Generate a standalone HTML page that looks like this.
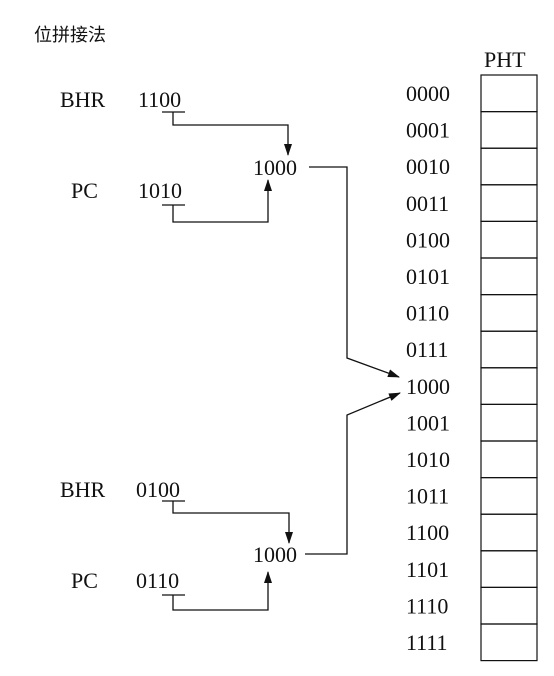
<!DOCTYPE html>
<html><head><meta charset="utf-8"><style>
html,body{margin:0;padding:0;background:#fff;}
svg{display:block;}
text{font-family:"Liberation Serif","Noto Serif CJK SC",serif;font-size:22px;fill:#111;}
</style></head><body>
<svg width="554" height="676" viewBox="0 0 554 676">
<defs><marker id="ah" markerWidth="12" markerHeight="8" refX="11" refY="4" orient="auto" markerUnits="userSpaceOnUse"><path d="M0,0 L12,4 L0,8 Z" fill="#111"/></marker></defs>
<text x="34" y="41" style="font-family:'Noto Sans CJK SC',sans-serif;font-size:18px">位拼接法</text>
<text x="484" y="67">PHT</text>
<g id="pht"></g>
<g stroke="#111" stroke-width="1.3" fill="none">
<g><line x1="162" y1="112" x2="185" y2="112"/><polyline points="173,112 173,125 288,125 288,155" marker-end="url(#ah)"/></g>
<g><line x1="162" y1="205" x2="185" y2="205"/><polyline points="173,205 173,222 268,222 268,180" marker-end="url(#ah)"/></g>
<polyline points="309,167 347,167 347,358 399,377" marker-end="url(#ah)"/>
<g><line x1="162" y1="501" x2="185" y2="501"/><polyline points="173,501 173,513 289,513 289,543" marker-end="url(#ah)"/></g>
<g><line x1="162" y1="595" x2="185" y2="595"/><polyline points="173,595 173,610 268,610 268,572" marker-end="url(#ah)"/></g>
<polyline points="305,554 347,554 347,415 400,393" marker-end="url(#ah)"/>
</g>
<text x="60" y="107">BHR</text>
<text x="138" y="107">1100</text>
<text x="71" y="198">PC</text>
<text x="138" y="198">1010</text>
<text x="253" y="175">1000</text>
<text x="60" y="497">BHR</text>
<text x="136" y="497">0100</text>
<text x="71" y="588">PC</text>
<text x="136" y="588">0110</text>
<text x="253" y="562">1000</text>
</svg>
<script>
const rowLabels=["0000","0001","0010","0011","0100","0101","0110","0111","1000","1001","1010","1011","1100","1101","1110","1111"];
const g=document.getElementById('pht');
const ns="http://www.w3.org/2000/svg";
const top0=75,rowH=36.6;
rowLabels.forEach((l,i)=>{
  const r=document.createElementNS(ns,'rect');
  r.setAttribute('x',481);r.setAttribute('y',top0+i*rowH);
  r.setAttribute('width',56);r.setAttribute('height',rowH);
  r.setAttribute('fill','none');r.setAttribute('stroke','#111');r.setAttribute('stroke-width','1.2');
  
  
  g.appendChild(r);
  const t=document.createElementNS(ns,'text');
  t.setAttribute('x',406);t.setAttribute('y',top0+26+i*rowH);
  t.textContent=l;
  
  
  g.appendChild(t);
});
</script>
</body></html>
